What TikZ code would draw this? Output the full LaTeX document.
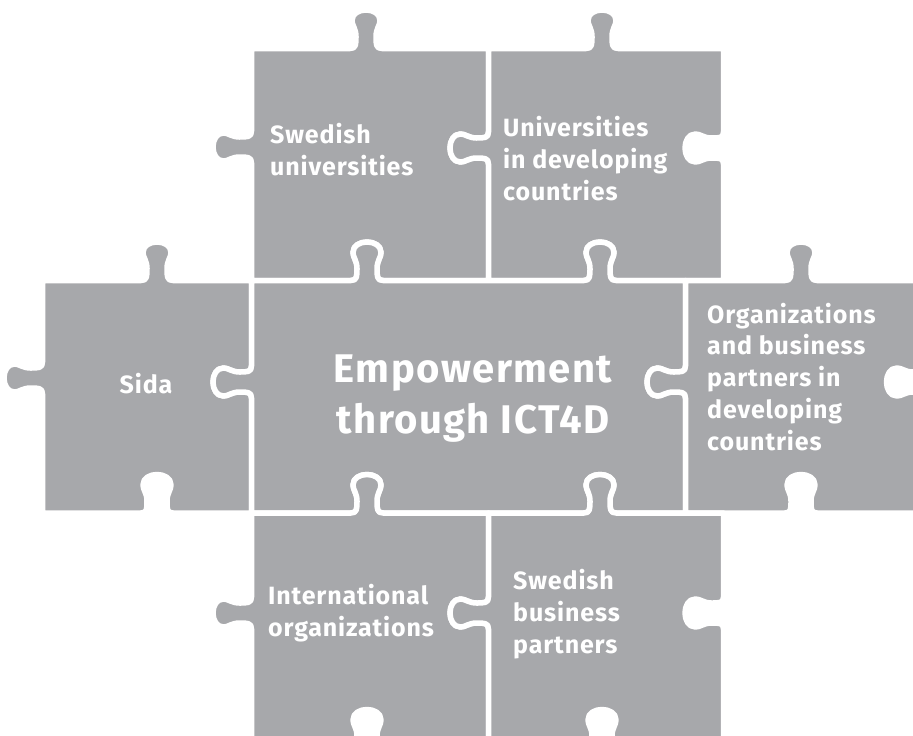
\documentclass[tikz,border=0pt]{standalone}
\usepackage{fontspec}
\setmainfont{Fira Sans}[LetterSpace=3.5]
\usetikzlibrary{positioning}
\definecolor{piecegray}{HTML}{A7A8AB}

% knob on a horizontal edge, pointing up, walked left to right (#3=1) or back (#3=-1)
\newcommand{\hknob}[3]{%
 -- ({#1-(#3)*16},#2)
 .. controls ({#1-(#3)*10},#2) and ({#1-(#3)*10},{#2-4}) .. ({#1-(#3)*10},{#2-12})
 .. controls ({#1-(#3)*10},{#2-20}) and ({#1-(#3)*14},{#2-23}) .. ({#1-(#3)*14},{#2-28})
 .. controls ({#1-(#3)*14},{#2-42}) and ({#1+(#3)*14},{#2-42}) .. ({#1+(#3)*14},{#2-28})
 .. controls ({#1+(#3)*14},{#2-23}) and ({#1+(#3)*10},{#2-20}) .. ({#1+(#3)*10},{#2-12})
 .. controls ({#1+(#3)*10},{#2-4}) and ({#1+(#3)*10},#2) .. ({#1+(#3)*16},#2)}
% knob on a vertical edge, pointing left, walked down (#3=1) or up (#3=-1)
\newcommand{\vknob}[3]{%
 -- (#1,{#2-(#3)*16})
 .. controls (#1,{#2-(#3)*10}) and ({#1-4},{#2-(#3)*10}) .. ({#1-12},{#2-(#3)*10})
 .. controls ({#1-20},{#2-(#3)*10}) and ({#1-23},{#2-(#3)*14}) .. ({#1-28},{#2-(#3)*14})
 .. controls ({#1-42},{#2-(#3)*14}) and ({#1-42},{#2+(#3)*14}) .. ({#1-28},{#2+(#3)*14})
 .. controls ({#1-23},{#2+(#3)*14}) and ({#1-20},{#2+(#3)*10}) .. ({#1-12},{#2+(#3)*10})
 .. controls ({#1-4},{#2+(#3)*10}) and (#1,{#2+(#3)*10}) .. (#1,{#2+(#3)*16})}

\begin{document}
\begin{tikzpicture}[x=1pt, y=-1pt,
  piece/.style = {fill = piecegray, draw = white, line width = 5.5pt, line join = round},
  label/.style = {text = white, inner sep = 0pt, align = left, anchor = base west, font = \fontsize{25}{31.7}\selectfont\bfseries}]
\useasboundingbox (0,0) rectangle (913,736);
\clip (0,0) rectangle (913,736);

\filldraw[piece] (251.5,48.5) \hknob{366}{48.5}{1} -- (488.5,48.5) \vknob{488.5}{148}{1} -- (488.5,280.5) \hknob{367}{280.5}{-1} -- (251.5,280.5) \vknob{251.5}{147}{-1} -- cycle;
\filldraw[piece] (488.5,48.5) \hknob{602}{48.5}{1} -- (723.5,48.5) \vknob{723.5}{148}{1} -- (723.5,280.5) \hknob{600}{280.5}{-1} -- (488.5,280.5) \vknob{488.5}{148}{-1} -- cycle;
\filldraw[piece] (42.5,280.5) \hknob{157}{280.5}{1} -- (251.5,280.5) \vknob{251.5}{382}{1} -- (251.5,513) \hknob{157}{513}{-1} -- (42.5,513) \vknob{42.5}{378}{-1} -- cycle;
\filldraw[piece] (251.5,280.5) \hknob{367}{280.5}{1} \hknob{600}{280.5}{1} -- (685.5,280.5) \vknob{685.5}{382}{1} -- (685.5,513) \hknob{600}{513}{-1} \hknob{367}{513}{-1} -- (251.5,513) \vknob{251.5}{382}{-1} -- cycle;
\filldraw[piece] (685.5,280.5) \hknob{801}{280.5}{1} -- (925,280.5) \vknob{925}{382}{1} -- (925,513) \hknob{801}{513}{-1} -- (685.5,513) \vknob{685.5}{382}{-1} -- cycle;
\filldraw[piece] (251.5,513) \hknob{367}{513}{1} -- (488.5,513) \vknob{488.5}{613}{1} -- (488.5,748) \hknob{367}{748}{-1} -- (251.5,748) \vknob{251.5}{613}{-1} -- cycle;
\filldraw[piece] (488.5,513) \hknob{600}{513}{1} -- (723.5,513) \vknob{723.5}{613}{1} -- (723.5,748) \hknob{602}{748}{-1} -- (488.5,748) \vknob{488.5}{613}{-1} -- cycle;

% anchors sit on the last baseline of each label
\node[label] (swuni) at (270,175) {Swedish\\universities};
\node[label] (devuni) at (503,200) {Universities\\in developing\\countries};
\node[label, anchor = base] (sida) at (146,393) {Sida};
\node[label, align = center, anchor = base, font = \fontsize{40}{51}\selectfont\bfseries] (ict) at (473,433) {Empowerment\\through ICT4D};
\node[label] (devorg) at (707,450) {Organizations\\and business\\partners in\\developing\\countries};
\node[label] (intorg) at (268,636) {International\\organizations};
\node[label] (swbiz) at (513,653) {Swedish\\business\\partners};
\end{tikzpicture}
\end{document}
